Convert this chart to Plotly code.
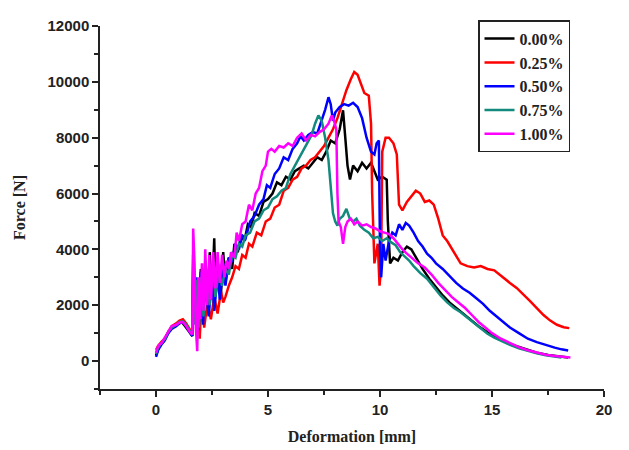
import plotly.graph_objects as go

# ---------------- data ----------------
labels = ["0.00%", "0.25%", "0.50%", "0.75%", "1.00%"]
colors = ["#000000", "#ff0000", "#0000ff", "#138a7e", "#ff00ff"]

x_000 = [0, 0.1, 0.2, 0.35, 0.5, 0.65, 0.8, 1.0, 1.15, 1.3, 1.5, 1.62, 1.66, 1.72, 1.8, 1.9, 2.0, 2.1,
         2.2, 2.3, 2.4, 2.5, 2.6, 2.65, 2.75, 2.9, 3.0, 3.1, 3.25, 3.4, 3.5, 3.65, 3.8, 3.95, 4.1, 4.25,
         4.4, 4.6, 4.8, 5.0, 5.2, 5.4, 5.6, 5.8, 6.0, 6.2, 6.4, 6.6, 6.8, 7.0, 7.2, 7.4, 7.6, 7.8, 8.0,
         8.2, 8.35, 8.45, 8.55, 8.66, 8.8, 9.0, 9.2, 9.4, 9.6, 9.8, 9.9, 10.1, 10.3, 10.35, 10.45, 10.6,
         10.8, 11.0, 11.2, 11.4, 11.6, 11.9, 12.2, 12.5, 12.8, 13.1, 13.4, 13.7, 14.0, 14.4, 14.8, 15.2,
         15.6, 16.0, 16.5, 17.0, 17.5, 18.0, 18.4]
y_000 = [200, 450, 600, 700, 950, 1150, 1250, 1350, 1400, 1250, 1050, 900, 3800, 1500, 2800, 1200, 3300,
         1500, 3600, 1900, 3900, 2200, 4400, 2600, 3600, 2400, 3900, 2800, 3700, 3300, 4200, 3900, 4500,
         4300, 4900, 4800, 5300, 5200, 5700, 5800, 6000, 6400, 6300, 6600, 6500, 6800, 6900, 7000, 6900,
         7100, 7300, 7200, 7500, 7900, 7800, 8300, 8980, 8000, 7000, 6500, 7000, 6800, 7100, 6900, 7100,
         6700, 6500, 6600, 6500, 5000, 3500, 3700, 3600, 3900, 4100, 4000, 3700, 3300, 2950, 2650, 2350,
         2100, 1900, 1700, 1500, 1250, 1030, 850, 690, 560, 420, 300, 220, 160, 130]

x_025 = [0, 0.1, 0.25, 0.4, 0.55, 0.7, 0.9, 1.05, 1.2, 1.35, 1.5, 1.62, 1.67, 1.73, 1.82, 1.95, 2.05,
         2.15, 2.3, 2.45, 2.6, 2.75, 2.9, 3.0, 3.1, 3.25, 3.4, 3.55, 3.7, 3.85, 4.0, 4.15, 4.3, 4.5, 4.7,
         4.9, 5.1, 5.3, 5.5, 5.7, 5.9, 6.1, 6.3, 6.5, 6.7, 6.9, 7.1, 7.3, 7.5, 7.7, 7.9, 8.1, 8.3, 8.5,
         8.7, 8.85, 9.0, 9.15, 9.3, 9.5, 9.6, 9.65, 9.75, 9.9, 9.98, 10.05, 10.1, 10.25, 10.4, 10.6, 10.75,
         10.85, 11.0, 11.2, 11.4, 11.6, 11.8, 12.0, 12.2, 12.4, 12.6, 12.8, 13.0, 13.3, 13.6, 13.9, 14.2,
         14.5, 14.8, 15.1, 15.4, 15.8, 16.1, 16.4, 16.7, 17.0, 17.3, 17.6, 17.9, 18.2, 18.45]
y_025 = [400, 550, 700, 800, 1050, 1250, 1350, 1450, 1500, 1350, 1150, 1000, 3200, 1400, 2600, 800, 2400,
         1200, 2100, 1500, 2300, 1700, 2500, 2100, 2300, 2700, 3000, 3400, 3300, 3800, 3700, 4200, 4100,
         4600, 4500, 5000, 5100, 5500, 5600, 6100, 6200, 6500, 6600, 6900, 7000, 7200, 7300, 7500, 7700,
         8000, 8300, 8700, 9200, 9700, 10100, 10350, 10250, 9900, 9600, 9500, 8500, 6000, 3500, 4200, 2700,
         3400, 7500, 8000, 8000, 7800, 7400, 5600, 5400, 5700, 5900, 6100, 6000, 5700, 5750, 5600, 5100,
         4500, 4300, 3900, 3500, 3400, 3350, 3400, 3300, 3250, 3050, 2800, 2620, 2400, 2150, 1900, 1650,
         1450, 1300, 1210, 1180]

x_050 = [0, 0.1, 0.25, 0.4, 0.55, 0.7, 0.9, 1.05, 1.2, 1.35, 1.5, 1.62, 1.67, 1.73, 1.8, 1.9, 2.0, 2.1,
         2.2, 2.35, 2.5, 2.6, 2.75, 2.85, 3.0, 3.1, 3.25, 3.4, 3.55, 3.7, 3.85, 4.0, 4.2, 4.4, 4.6, 4.8,
         4.95, 5.1, 5.3, 5.5, 5.7, 5.9, 6.1, 6.3, 6.45, 6.6, 6.8, 7.0, 7.2, 7.4, 7.55, 7.7, 7.8, 7.9, 8.0,
         8.2, 8.4, 8.6, 8.8, 9.0, 9.2, 9.4, 9.6, 9.75, 9.85, 9.95, 10.0, 10.05, 10.15, 10.25, 10.4, 10.55,
         10.7, 10.85, 11.0, 11.15, 11.3, 11.5, 11.7, 11.9, 12.1, 12.3, 12.5, 12.8, 13.1, 13.4, 13.7, 14.0,
         14.3, 14.6, 14.9, 15.2, 15.5, 15.8, 16.2, 16.6, 17.0, 17.4, 17.8, 18.1, 18.4]
y_050 = [150, 400, 600, 750, 1000, 1150, 1250, 1350, 1400, 1250, 1050, 900, 4000, 1500, 3000, 1100, 3200,
         1300, 2800, 1600, 3000, 1800, 3100, 2200, 3500, 2700, 3700, 3600, 4200, 4000, 4500, 4400, 5000,
         5200, 5600, 5800, 6300, 6200, 6700, 6900, 7300, 7200, 7600, 7800, 8050, 7900, 8100, 8200, 8150,
         8600, 9000, 9450, 9200, 8600, 8900, 9100, 9200, 9150, 9250, 9100, 8700, 8000, 7500, 7400, 7800,
         7900, 4000, 3000, 4200, 3600, 4300, 4600, 4500, 4900, 4700, 4950, 4850, 4600, 4300, 4100, 3850,
         3700, 3500, 3300, 3050, 2800, 2600, 2450, 2250, 2050, 1800, 1600, 1400, 1200, 1000, 800, 680, 570,
         480, 420, 380]

x_075 = [0, 0.1, 0.25, 0.4, 0.55, 0.7, 0.9, 1.05, 1.2, 1.35, 1.5, 1.62, 1.67, 1.73, 1.82, 1.92, 2.02,
         2.12, 2.25, 2.4, 2.55, 2.65, 2.8, 2.95, 3.1, 3.25, 3.4, 3.55, 3.7, 3.85, 4.0, 4.2, 4.4, 4.6, 4.8,
         5.0, 5.2, 5.4, 5.6, 5.8, 6.0, 6.2, 6.4, 6.6, 6.8, 6.95, 7.1, 7.25, 7.4, 7.55, 7.7, 7.8, 7.9, 8.0,
         8.1, 8.2, 8.35, 8.5, 8.65, 8.8, 8.95, 9.1, 9.3, 9.5, 9.7, 9.9, 10.1, 10.3, 10.5, 10.7, 10.9, 11.1,
         11.3, 11.5, 11.8, 12.1, 12.4, 12.7, 13.0, 13.3, 13.6, 13.9, 14.2, 14.5, 14.8, 15.1, 15.4, 15.8,
         16.2, 16.6, 17.0, 17.4, 17.8, 18.1]
y_075 = [250, 500, 650, 800, 1050, 1200, 1300, 1400, 1420, 1300, 1100, 950, 3600, 1300, 2900, 1200, 3000,
         1600, 3300, 2000, 3500, 2300, 3200, 2700, 3300, 3100, 3800, 3700, 4200, 4100, 4500, 4600, 5000,
         5100, 5400, 5500, 5800, 5900, 6100, 6200, 6700, 7000, 7300, 7600, 7900, 8100, 8500, 8800, 8600,
         8000, 7200, 6200, 5300, 5000, 4850, 5100, 5200, 5450, 5100, 5000, 5100, 4850, 4700, 4600, 4400,
         4450, 4300, 4400, 4250, 4150, 3900, 3750, 3600, 3400, 3150, 2950, 2650, 2350, 2100, 1900, 1750,
         1550, 1350, 1150, 980, 840, 720, 580, 460, 360, 280, 210, 160, 130]

x_100 = [0, 0.1, 0.25, 0.4, 0.55, 0.7, 0.9, 1.05, 1.2, 1.35, 1.5, 1.62, 1.66, 1.72, 1.78, 1.84, 1.9, 1.98,
         2.05, 2.12, 2.2, 2.28, 2.38, 2.46, 2.55, 2.65, 2.75, 2.85, 2.95, 3.05, 3.15, 3.25, 3.35, 3.5, 3.6,
         3.7, 3.85, 4.0, 4.15, 4.3, 4.45, 4.6, 4.75, 4.9, 5.0, 5.15, 5.3, 5.5, 5.7, 5.9, 6.1, 6.3, 6.5,
         6.7, 6.9, 7.1, 7.3, 7.5, 7.7, 7.85, 7.95, 8.05, 8.1, 8.15, 8.25, 8.35, 8.45, 8.55, 8.7, 8.85,
         9.0, 9.2, 9.4, 9.6, 9.8, 10.0, 10.2, 10.4, 10.6, 10.8, 11.0, 11.2, 11.4, 11.7, 12.0, 12.3, 12.6,
         12.9, 13.2, 13.5, 13.8, 14.1, 14.4, 14.7, 15.0, 15.4, 15.8, 16.2, 16.6, 17.0, 17.4, 17.8, 18.2,
         18.5]
y_100 = [300, 550, 650, 850, 1100, 1250, 1300, 1380, 1400, 1250, 1050, 950, 4750, 3500, 1200, 350, 3000,
         1500, 3500, 1800, 4000, 2000, 3800, 2200, 3900, 2600, 3900, 2800, 3800, 3000, 3600, 3300, 3900,
         3700, 4600, 4300, 4900, 5000, 5600, 5400, 6000, 6200, 6800, 7000, 7500, 7600, 7500, 7700, 7650,
         7800, 7700, 8000, 8150, 7900, 8100, 8050, 8200, 8300, 8500, 8800, 8600, 8300, 6000, 5000, 4800,
         4200, 4800, 5000, 5100, 4900, 5000, 4850, 4900, 4800, 4750, 4650, 4600, 4550, 4400, 4200, 4000,
         3850, 3700, 3500, 3350, 3100, 2800, 2550, 2300, 2100, 1900, 1650, 1400, 1200, 1000, 800, 640, 500,
         390, 300, 230, 180, 150, 130]

series_x = [x_000, x_025, x_050, x_075, x_100]
series_y = [y_000, y_025, y_050, y_075, y_100]

x_ticks = [0, 5, 10, 15, 20]
x_tick_text = ["0", "5", "10", "15", "20"]
y_ticks = [0, 2000, 4000, 6000, 8000, 10000, 12000]
y_tick_text = ["0", "2000", "4000", "6000", "8000", "10000", "12000"]

# ---------------- figure ----------------
fig = go.Figure()
for name, col, xs, ys in zip(labels, colors, series_x, series_y):
    fig.add_trace(go.Scatter(x=xs, y=ys, mode="lines", name=name,
                             line=dict(color=col, width=2.5)))

tick_font = dict(family="Liberation Sans, Arial, sans-serif", size=15, color="#222", weight="bold")
title_font = dict(family="Liberation Serif, Times New Roman, serif", size=16, color="#222", weight="bold")

# page has an 8px body margin, so the figure is sized to fit the 629x450 window
fig.update_layout(
    width=621, height=442,
    margin=dict(l=92, r=25, t=12, b=61),
    paper_bgcolor="white", plot_bgcolor="white",
    showlegend=True,
    legend=dict(x=0.75, y=1.016, xanchor="left", yanchor="top",
                bordercolor="#222", borderwidth=1.5, bgcolor="white",
                font=dict(family="Liberation Serif, Times New Roman, serif", size=16,
                          color="#222", weight="bold"),
                tracegroupgap=0, itemwidth=30),
    xaxis=dict(range=[-2.5, 20], tickvals=x_ticks, ticktext=x_tick_text, ticks="outside",
               ticklen=6, tickwidth=1.5, automargin=False,
               tickcolor="#222", showline=True, linecolor="#222", linewidth=1.5,
               showgrid=False, zeroline=False, tickfont=tick_font,
               minor=dict(dtick=2.5, tick0=0, ticks="outside", ticklen=4, tickwidth=1.5, tickcolor="#222"),
               title=dict(text="Deformation [mm]", font=title_font, standoff=14)),
    yaxis=dict(range=[-1000, 12000], tickvals=y_ticks, ticktext=y_tick_text, ticks="outside",
               ticklen=6, tickwidth=1.5, automargin=False,
               tickcolor="#222", showline=True, linecolor="#222", linewidth=1.5,
               showgrid=False, zeroline=False, tickfont=tick_font,
               minor=dict(dtick=1000, tick0=0, ticks="outside", ticklen=4, tickwidth=1.5, tickcolor="#222"),
               title=dict(text="Force [N]", font=title_font, standoff=18)),
)

fig.write_html("out.html")
